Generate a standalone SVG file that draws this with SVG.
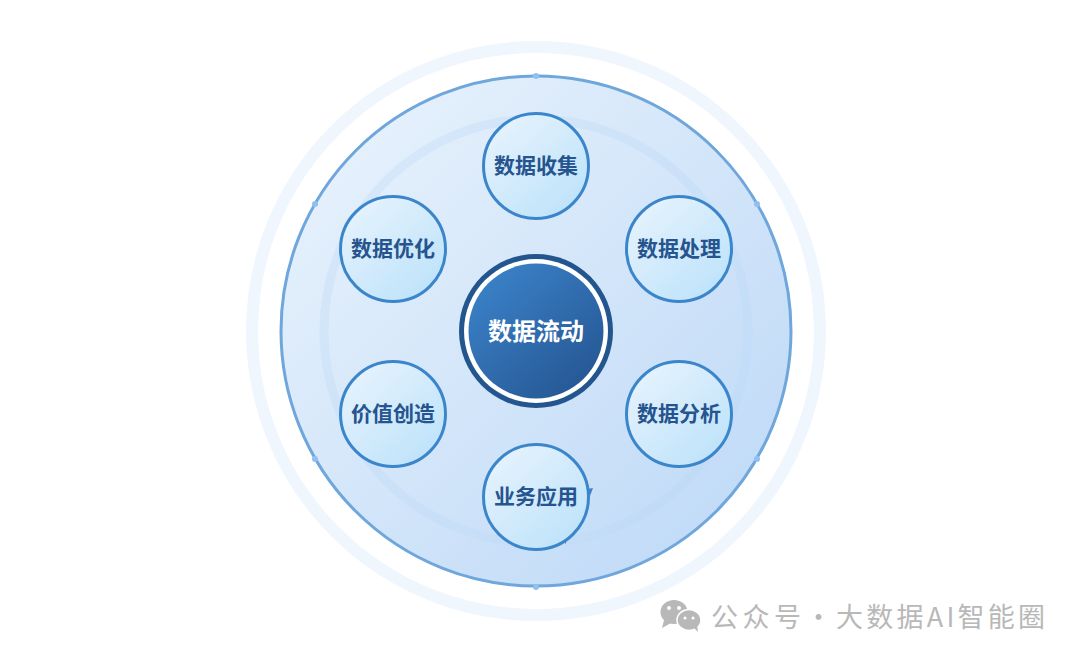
<svg xmlns="http://www.w3.org/2000/svg" width="1080" height="659" viewBox="0 0 1080 659">
<style>
.sat{stroke:#3b86cb;stroke-width:3;fill:url(#gNode)}
.lbl{font-family:"Noto Sans CJK SC","Liberation Sans",sans-serif;font-weight:700;font-size:21px;fill:#25548f;text-anchor:middle}
.dot{fill:#8fc0f3}
.wm{font-family:"Noto Sans CJK SC","Liberation Sans",sans-serif;font-size:27px;fill:#b8b8b8;letter-spacing:3.25px}
</style>
<defs>
<linearGradient id="gMain" x1="0.1" y1="0.1" x2="0.9" y2="0.9"><stop offset="0" stop-color="#e6f1fc"/><stop offset="1" stop-color="#c0daf7"/></linearGradient>
<linearGradient id="gNode" x1="0.15" y1="0.1" x2="0.85" y2="0.9"><stop offset="0" stop-color="#e4f2fd"/><stop offset="1" stop-color="#bfe3fa"/></linearGradient>
<linearGradient id="gCore" x1="0.15" y1="0.1" x2="0.85" y2="0.9"><stop offset="0" stop-color="#3a80c6"/><stop offset="1" stop-color="#265895"/></linearGradient>
</defs>
<rect width="1080" height="659" fill="#ffffff"/>
<g id="backdrop">
<circle cx="536" cy="331" r="284" fill="none" stroke="#f0f6fd" stroke-width="12"/>
<circle cx="536" cy="331" r="255" fill="url(#gMain)" stroke="#6fa6dc" stroke-width="3"/>
<circle cx="536" cy="331" r="212" fill="none" stroke="#b9d6f5" stroke-opacity="0.3" stroke-width="9"/>
<circle class="dot" cx="536" cy="76" r="3"/>
<circle class="dot" cx="757" cy="204" r="3"/>
<circle class="dot" cx="757" cy="459" r="3"/>
<circle class="dot" cx="536" cy="587" r="3"/>
<circle class="dot" cx="315" cy="459" r="3"/>
<circle class="dot" cx="315" cy="204" r="3"/>
</g>
<g id="connectors">
<path d="M587 489L593 488L590 496Z" fill="#3b86cb"/>
<path d="M563 541L566 540L566 544Z" fill="#3b86cb"/>
</g>
<g id="node-collect"><circle class="sat" cx="536" cy="166" r="52.500"/><text class="lbl" x="536" y="172.500">数据收集</text></g>
<g id="node-process"><circle class="sat" cx="679" cy="249" r="52.500"/><text class="lbl" x="679" y="255.500">数据处理</text></g>
<g id="node-analyze"><circle class="sat" cx="679" cy="414" r="52.500"/><text class="lbl" x="679" y="420.500">数据分析</text></g>
<g id="node-apply"><circle class="sat" cx="536" cy="497" r="52.500"/><text class="lbl" x="536" y="503.500">业务应用</text></g>
<g id="node-value"><circle class="sat" cx="393" cy="414" r="52.500"/><text class="lbl" x="393" y="420.500">价值创造</text></g>
<g id="node-optimize"><circle class="sat" cx="393" cy="249" r="52.500"/><text class="lbl" x="393" y="255.500">数据优化</text></g>
<g id="node-core">
<circle cx="536" cy="331" r="77" fill="#23558f"/>
<circle cx="536" cy="331" r="72" fill="#ffffff"/>
<circle cx="536" cy="331" r="67.500" fill="url(#gCore)"/>
<text x="536" y="339.500" text-anchor="middle" font-family="'Noto Sans CJK SC','Liberation Sans',sans-serif" font-weight="700" font-size="24px" fill="#ffffff">数据流动</text>
</g>
<g id="watermark">
<ellipse cx="674" cy="612" rx="13.500" ry="12" fill="#b8b8b8"/>
<path d="M664 620L662 628L671 623Z" fill="#b8b8b8"/>
<ellipse cx="689" cy="620" rx="12" ry="10.500" fill="#b8b8b8" stroke="#ffffff" stroke-width="1.500"/>
<path d="M694 628L698 632L697 624Z" fill="#b8b8b8"/>
<circle cx="669" cy="608" r="2" fill="#fff"/><circle cx="679" cy="608" r="2" fill="#fff"/>
<circle cx="685" cy="618" r="1.500" fill="#fff"/><circle cx="693" cy="618" r="1.500" fill="#fff"/>
<text class="wm" y="627"><tspan x="711" letter-spacing="4.500">公众号</tspan><tspan x="805">·</tspan><tspan x="836">大数据AI智能圈</tspan></text>
</g>
</svg>
